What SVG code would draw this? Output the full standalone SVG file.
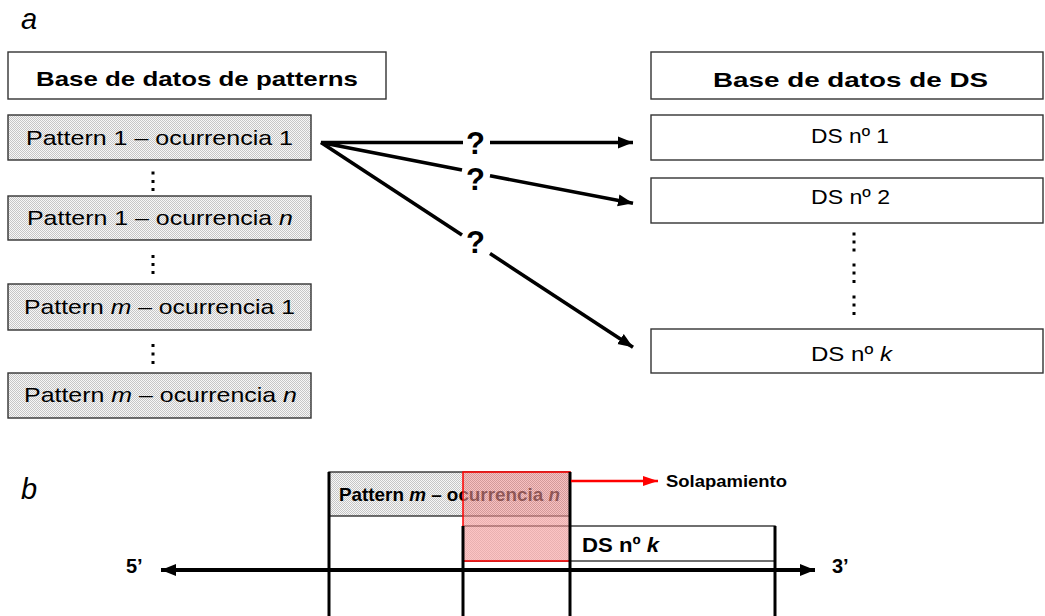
<svg xmlns="http://www.w3.org/2000/svg" width="1045" height="616" viewBox="0 0 1045 616">
<style>
text{font-family:"Liberation Sans",Arial,sans-serif;fill:#000}
.hdr{font-size:21px;font-weight:bold}
.lbl{font-size:21px}
.q{font-size:31px;font-weight:bold}
.box{fill:#fff;stroke:#333;stroke-width:1.4}
.pbox{fill:url(#dots);stroke:#333;stroke-width:1.4}
.conn{stroke:#000;stroke-width:3.6;fill:none}
.dot{fill:#000}
.vl{stroke:#000;stroke-width:3}
</style>
<defs>
<pattern id="dots" width="2" height="2" patternUnits="userSpaceOnUse">
<rect width="2" height="2" fill="#f7f7f7"/>
<rect width="1" height="1" fill="#c6c6c6"/>
<rect x="1" y="1" width="1" height="1" fill="#c6c6c6"/>
</pattern>
<marker id="ah" markerUnits="userSpaceOnUse" markerWidth="16" markerHeight="14" refX="15" refY="7" orient="auto">
<polygon points="0,1 15,7 0,13" fill="#000"/>
</marker>
<marker id="ahr" markerUnits="userSpaceOnUse" markerWidth="16" markerHeight="12" refX="15" refY="6" orient="auto">
<polygon points="0,1 15,6 0,11" fill="#f00"/>
</marker>
</defs>
<rect width="1045" height="616" fill="#fff"/>

<text x="21" y="29" style="font-size:29px;font-style:italic">a</text>
<text x="21" y="499" style="font-size:29px;font-style:italic">b</text>

<g id="hdr-patterns"><rect class="box" x="8" y="52" width="378" height="47"/><text class="hdr" x="36" y="85.5" textLength="322" lengthAdjust="spacingAndGlyphs">Base de datos de patterns</text></g>
<g id="p1o1"><rect class="pbox" x="8" y="115" width="303" height="45"/><text class="lbl" x="26" y="145" textLength="267" lengthAdjust="spacingAndGlyphs">Pattern 1 – ocurrencia 1</text></g>
<g id="p1on"><rect class="pbox" x="8" y="196" width="303" height="44"/><text class="lbl" x="27" y="225" textLength="266" lengthAdjust="spacingAndGlyphs">Pattern 1 – ocurrencia <tspan font-style="italic">n</tspan></text></g>
<g id="pmo1"><rect class="pbox" x="8" y="284" width="303" height="46"/><text class="lbl" x="24" y="314" textLength="271" lengthAdjust="spacingAndGlyphs">Pattern <tspan font-style="italic">m</tspan> – ocurrencia 1</text></g>
<g id="pmon"><rect class="pbox" x="8" y="373" width="303" height="45"/><text class="lbl" x="24" y="402" textLength="273" lengthAdjust="spacingAndGlyphs">Pattern <tspan font-style="italic">m</tspan> – ocurrencia <tspan font-style="italic">n</tspan></text></g>
<g id="left-dots">
<rect class="dot" x="151.5" y="171.5" width="3" height="3"/><rect class="dot" x="151.5" y="180" width="3" height="3"/><rect class="dot" x="151.5" y="188" width="3" height="3"/>
<rect class="dot" x="151.5" y="255" width="3" height="3"/><rect class="dot" x="151.5" y="263" width="3" height="3"/><rect class="dot" x="151.5" y="271" width="3" height="3"/>
<rect class="dot" x="151.5" y="344" width="3" height="3"/><rect class="dot" x="151.5" y="352.5" width="3" height="3"/><rect class="dot" x="151.5" y="361" width="3" height="3"/>
</g>

<g id="hdr-ds"><rect class="box" x="651" y="52" width="392" height="47"/><text class="hdr" x="713" y="86.5" textLength="275" lengthAdjust="spacingAndGlyphs">Base de datos de DS</text></g>
<g id="ds1"><rect class="box" x="651" y="115" width="392" height="45"/><text class="lbl" x="811" y="142.5" textLength="78" lengthAdjust="spacingAndGlyphs">DS nº 1</text></g>
<g id="ds2"><rect class="box" x="651" y="178" width="392" height="45"/><text class="lbl" x="811" y="204" textLength="79" lengthAdjust="spacingAndGlyphs">DS nº 2</text></g>
<g id="dsk"><rect class="box" x="651" y="329" width="392" height="44"/><text class="lbl" x="811" y="360.5" textLength="81" lengthAdjust="spacingAndGlyphs">DS nº <tspan font-style="italic">k</tspan></text></g>
<g id="right-dots">
<rect class="dot" x="852.5" y="232.5" width="3" height="3"/><rect class="dot" x="852.5" y="240.5" width="3" height="3"/><rect class="dot" x="852.5" y="248.5" width="3" height="3"/>
<rect class="dot" x="852.5" y="263.5" width="3" height="3"/><rect class="dot" x="852.5" y="271.5" width="3" height="3"/><rect class="dot" x="852.5" y="280" width="3" height="3"/>
<rect class="dot" x="852.5" y="295.5" width="3" height="3"/><rect class="dot" x="852.5" y="303.5" width="3" height="3"/><rect class="dot" x="852.5" y="312" width="3" height="3"/>
</g>

<g id="connectors">
<polyline class="conn" points="463,142.5 321,142.5 462,170" stroke-linejoin="miter"/>
<line class="conn" x1="321" y1="142.5" x2="462" y2="235"/>
<line class="conn" x1="490" y1="142.5" x2="633" y2="142.5" marker-end="url(#ah)"/>
<line class="conn" x1="490" y1="175.8" x2="633" y2="203.2" marker-end="url(#ah)"/>
<line class="conn" x1="490" y1="253.5" x2="633" y2="347.3" marker-end="url(#ah)"/>
<text class="q" x="475.5" y="154" text-anchor="middle">?</text>
<text class="q" x="475.5" y="190" text-anchor="middle">?</text>
<text class="q" x="475.5" y="253" text-anchor="middle">?</text>
</g>

<g id="pattern-b"><rect class="pbox" x="329" y="472" width="241" height="44"/><text x="339" y="500.5" style="font-size:18.5px;font-weight:bold" textLength="221" lengthAdjust="spacingAndGlyphs">Pattern <tspan font-style="italic">m</tspan> – ocurrencia <tspan font-style="italic">n</tspan></text></g>
<g id="ds-b"><rect class="box" x="463" y="526" width="312" height="35"/><text x="582" y="552" style="font-size:21px;font-weight:bold" textLength="77" lengthAdjust="spacingAndGlyphs">DS nº <tspan font-style="italic">k</tspan></text></g>
<g id="overlap">
<rect x="463" y="472" width="107" height="89" fill="url(#dots)" opacity="0.5"/>
<rect x="463" y="472" width="107" height="89" fill="#ff0000" fill-opacity="0.22" stroke="#f00" stroke-width="1.5"/>
</g>
<g id="axis">
<line class="vl" x1="329" y1="472" x2="329" y2="616"/>
<line class="vl" x1="463" y1="526" x2="463" y2="616"/>
<line class="vl" x1="570" y1="472" x2="570" y2="616"/>
<line class="vl" x1="775" y1="526" x2="775" y2="616"/>
<line x1="250" y1="570" x2="161" y2="570" stroke="#000" stroke-width="4" marker-end="url(#ah)"/>
<line x1="240" y1="570" x2="815" y2="570" stroke="#000" stroke-width="4" marker-end="url(#ah)"/>
<text x="126" y="573" style="font-size:20px;font-weight:bold">5’</text>
<text x="832" y="573" style="font-size:20px;font-weight:bold">3’</text>
</g>
<g id="solapamiento">
<line x1="571" y1="481" x2="658" y2="481" stroke="#f00" stroke-width="2.5" marker-end="url(#ahr)"/>
<text x="666" y="487" style="font-size:17px;font-weight:bold" textLength="121" lengthAdjust="spacingAndGlyphs">Solapamiento</text>
</g>
</svg>
